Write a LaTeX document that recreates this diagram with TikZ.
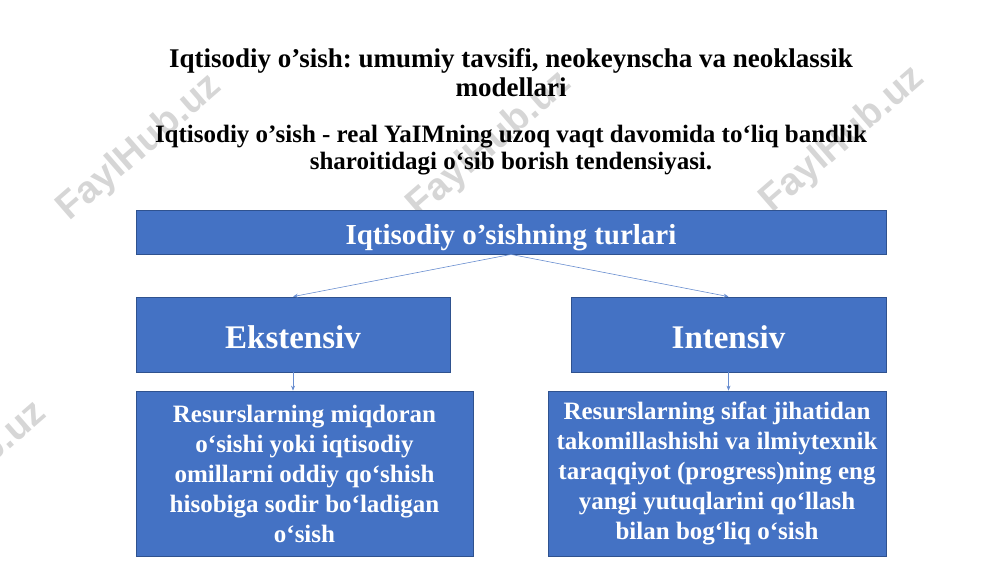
\documentclass[tikz,border=0pt]{standalone}
\usepackage{fontspec}
\setmainfont{Liberation Serif}
\newfontfamily\wmfont{Liberation Sans}
\usetikzlibrary{arrows.meta, calc, positioning}
\definecolor{boxblue}{HTML}{4472C4}
\definecolor{boxedge}{HTML}{2F528F}
\definecolor{wmgray}{HTML}{D6D6D6}
\frenchspacing
% lower a one-line label inside its box without changing the box
\newcommand{\lowered}[2]{\raisebox{-#1}[\height][\depth]{#2}}

\begin{document}
\begin{tikzpicture}[x=1pt, y=-1pt,% pixel grid, y runs down
         > = {Stealth[length=5pt, width=4pt]},
titletext/.style = {align=center, font=\bfseries\fontsize{27}{29}\selectfont},
 subtext/.style = {align=center, font=\bfseries\fontsize{25}{27}\selectfont},
 bluebox/.style = {draw=boxedge, thick, fill=boxblue, text=white,
                   align=center, inner sep=2pt},
 headbox/.style = {bluebox, font=\bfseries\fontsize{29}{32}\selectfont},
 kindbox/.style = {bluebox, font=\bfseries\fontsize{33}{36}\selectfont},
 descbox/.style = {bluebox, font=\bfseries\fontsize{25}{30}\selectfont},
   arrow/.style = {->, boxblue!80, line width=0.6pt},
watermark/.style = {text=wmgray, rotate=41,
                   font=\wmfont\bfseries\fontsize{38}{40}\selectfont}
                        ]
	\useasboundingbox (0,0) rectangle (1000,562);

	% watermark, behind everything
	\begin{scope}
	\clip (0,0) rectangle (1000,562);
	\foreach \wx/\wy in {140/148, 490/145, 843/140,
	                     -35/475, 315/475, 665/475}
	    \node[watermark] (wm) at (\wx,\wy) {FaylHub.uz};
	\end{scope}

	% headings
	\node[titletext] (title) at (511,72.5)
	    {Iqtisodiy o’sish: umumiy tavsifi, neokeynscha va neoklassik\\ modellari};
	\node[subtext] (def) at (511,150)
	    {Iqtisodiy o’sish - real YaIMning uzoq vaqt davomida to‘liq bandlik\\ sharoitidagi o‘sib borish tendensiyasi.};

	% boxes
	\node[headbox, minimum width=750, minimum height=44] (types) at (511,232)
	    {\lowered{6pt}{Iqtisodiy o’sishning turlari}};
	\node[kindbox, minimum width=314, minimum height=75] (ext) at (293,334.5)
	    {\lowered{3pt}{Ekstensiv}};
	\node[kindbox, minimum width=315, minimum height=75] (int) at (728.5,334.5)
	    {\lowered{3pt}{Intensiv}};
	\node[descbox, minimum width=337, minimum height=165] (extdesc) at (304.5,473.5)
	    {Resurslarning miqdoran\\ o‘sishi yoki iqtisodiy\\ omillarni oddiy qo‘shish\\ hisobiga sodir bo‘ladigan\\ o‘sish};
	\node[descbox, minimum width=338, minimum height=165] (intdesc) at (717,473.5)
	    {Resurslarning sifat jihatidan\\ takomillashishi va ilmiytexnik\\ taraqqiyot (progress)ning eng\\ yangi yutuqlarini qo‘llash\\ bilan bog‘liq o‘sish};

	% connectors
	\draw[arrow] (types.south) -- (ext.north);
	\draw[arrow] (types.south) -- (int.north);
	\draw[arrow] (ext.south) -- (ext.south |- extdesc.north);
	\draw[arrow] (int.south) -- (int.south |- intdesc.north);
\end{tikzpicture}
\end{document}
